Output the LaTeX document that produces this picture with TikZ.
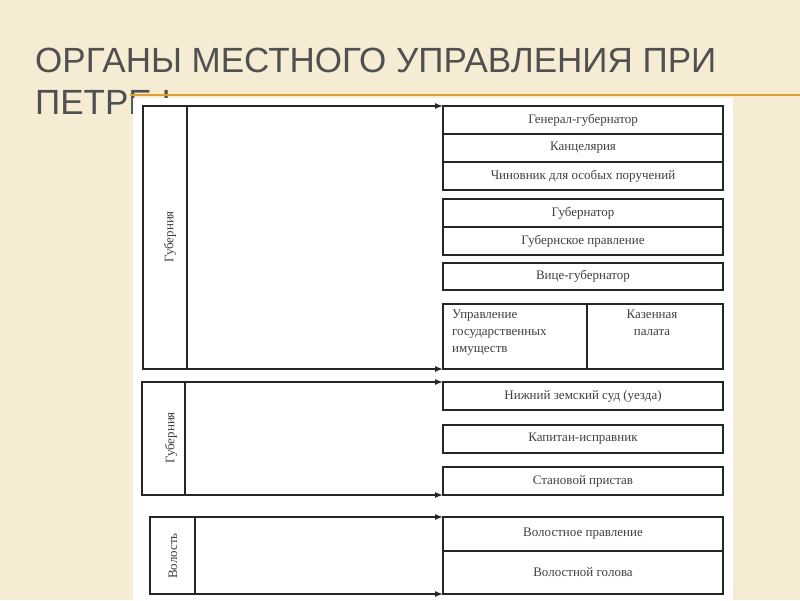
\documentclass[tikz,border=0pt]{standalone}
\usepackage{fontspec}
\setmainfont{Liberation Serif}
\newfontfamily\titlefont{Liberation Sans}
\usetikzlibrary{arrows.meta}
\definecolor{bg}{HTML}{F6ECD3}
\definecolor{ttl}{HTML}{505050}
\definecolor{orl}{HTML}{E0A030}
\tikzset{
  bx/.style={draw=black!85, line width=1.4pt, fill=white, minimum width=280pt, anchor=north west, inner sep=0pt, outer sep=0pt, font=\fontsize{13}{14}\selectfont, text=black!75},
  ln/.style={draw=black!85, line width=1.4pt},
  arr/.style={ln, -{Latex[length=8pt,width=6pt]}},
  lbl/.style={rotate=90, font=\fontsize{13}{14}\selectfont, text=black!75}
}
\begin{document}
\begin{tikzpicture}[x=1pt,y=-1pt]
\useasboundingbox (0,0) rectangle (800,600);
\fill[bg] (0,0) rectangle (800,600);
\node[anchor=base west, text=ttl, inner sep=0pt, font=\titlefont\fontsize{35}{40}\selectfont] (t1) at (35,72) {ОРГАНЫ МЕСТНОГО УПРАВЛЕНИЯ ПРИ};
\node[anchor=base west, text=ttl, inner sep=0pt, font=\titlefont\fontsize{35}{40}\selectfont] (t2) at (35,114) {ПЕТРЕ I};
\draw[orl, line width=1.2pt] (130,95) -- (800,95);
\fill[white] (133,98) rectangle (733,600);
% group 1
\draw[ln] (187,106) -- (143,106) -- (143,369) -- (187,369);
\draw[ln] (187,106) -- (187,369);
\node[lbl] (g1) at (170,237) {Губерния};
\node[bx, minimum height=28pt] (b1) at (443,106) {Генерал-губернатор};
\node[bx, minimum height=28pt] (b2) at (443,134) {Канцелярия};
\node[bx, minimum height=28pt] (b3) at (443,162) {Чиновник для особых поручений};
\node[bx, minimum height=28pt] (b4) at (443,199) {Губернатор};
\node[bx, minimum height=28pt] (b5) at (443,227) {Губернское правление};
\node[bx, minimum height=27pt] (b6) at (443,263) {Вице-губернатор};
\node[bx, minimum height=65pt, minimum width=144pt] (b7) at (443,304) {};
\node[bx, minimum height=65pt, minimum width=136pt] (b8) at (587,304) {};
\node[anchor=north west, align=left, inner sep=0pt, font=\fontsize{13}{17}\selectfont, text=black!75] (t7) at (452,310) {Управление\\государственных\\имуществ};
\node[anchor=north, align=center, inner sep=0pt, font=\fontsize{13}{17}\selectfont, text=black!75] (t8) at (652,310) {Казенная\\палата};
\coordinate (a1) at (187,106); \coordinate (a2) at (187,369);
\draw[arr] (a1) -- (a1 -| b1.west);
\draw[arr] (a2) -- (a2 -| b7.west);
% group 2
\draw[ln] (185,382) -- (142,382) -- (142,495) -- (185,495);
\draw[ln] (185,382) -- (185,495);
\node[lbl] (g2) at (171,438) {Губерния};
\node[bx, minimum height=28pt] (c1) at (443,382) {Нижний земский суд (уезда)};
\node[bx, minimum height=28pt] (c2) at (443,425) {Капитан-исправник};
\node[bx, minimum height=28pt] (c3) at (443,467) {Становой пристав};
\coordinate (a3) at (185,382); \coordinate (a4) at (185,495);
\draw[arr] (a3) -- (a3 -| c1.west);
\draw[arr] (a4) -- (a4 -| c3.west);
% group 3
\draw[ln] (195,517) -- (150,517) -- (150,594) -- (195,594);
\draw[ln] (195,517) -- (195,594);
\node[lbl] (g3) at (173,556) {Волость};
\node[bx, minimum height=34pt] (d1) at (443,517) {Волостное правление};
\node[bx, minimum height=43pt] (d2) at (443,551) {Волостной голова};
\coordinate (a5) at (195,517); \coordinate (a6) at (195,594);
\draw[arr] (a5) -- (a5 -| d1.west);
\draw[arr] (a6) -- (a6 -| d2.west);
\end{tikzpicture}
\end{document}
